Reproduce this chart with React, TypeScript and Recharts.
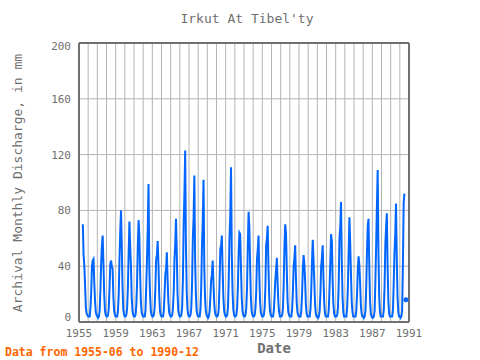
import React from 'react';
import { LineChart, Line, XAxis, YAxis, CartesianGrid } from 'recharts';

// Irkut at Tibel'ty, monthly discharge in mm
const years = [
  1955, 1956, 1957, 1958, 1959, 1960, 1961, 1962, 1963, 1964, 1965, 1966,
  1967, 1968, 1969, 1970, 1971, 1972, 1973, 1974, 1975, 1976, 1977, 1978,
  1979, 1980, 1981, 1982, 1983, 1984, 1985, 1986, 1987, 1988, 1989, 1990,
];

// one row per year, Jan..Dec
const discharge: (number | null)[][] = [
  [null, null, null, null, null, 70, 48, 40, 26, 10, 6, 5],
  [4, 4, 4, 10, 22, 40, 44, 45, 28, 15, 7, 5],
  [4, 3, 4, 8, 22, 42, 55, 62, 42, 20, 8, 5],
  [4, 4, 5, 10, 25, 42, 44, 40, 38, 18, 8, 5],
  [4, 4, 4, 8, 20, 45, 65, 80, 55, 25, 9, 5],
  [4, 4, 5, 10, 25, 50, 72, 55, 40, 18, 8, 5],
  [4, 4, 5, 12, 28, 55, 73, 62, 35, 15, 7, 5],
  [4, 4, 4, 8, 25, 45, 67, 99, 40, 20, 8, 5],
  [4, 4, 5, 10, 25, 45, 48, 58, 42, 20, 8, 5],
  [4, 4, 4, 8, 20, 34, 38, 50, 30, 15, 7, 5],
  [4, 4, 5, 10, 22, 45, 56, 74, 50, 20, 8, 5],
  [4, 4, 5, 10, 30, 70, 92, 123, 55, 22, 9, 5],
  [4, 4, 5, 10, 28, 60, 74, 105, 45, 20, 8, 5],
  [4, 4, 4, 9, 25, 55, 72, 102, 40, 18, 8, 5],
  [4, 3, 4, 8, 18, 30, 34, 44, 28, 14, 7, 5],
  [4, 4, 5, 10, 28, 52, 55, 62, 38, 18, 8, 5],
  [4, 4, 5, 10, 30, 60, 76, 111, 50, 22, 9, 5],
  [4, 4, 5, 10, 25, 50, 64, 63, 40, 18, 8, 5],
  [4, 4, 5, 10, 25, 55, 79, 68, 40, 18, 8, 5],
  [4, 4, 5, 10, 22, 45, 52, 62, 35, 15, 7, 5],
  [4, 4, 5, 10, 25, 55, 60, 69, 40, 18, 8, 5],
  [4, 4, 4, 8, 18, 30, 37, 46, 28, 14, 7, 4],
  [4, 4, 5, 10, 28, 55, 70, 63, 38, 16, 7, 5],
  [4, 4, 4, 9, 22, 40, 46, 55, 32, 14, 7, 5],
  [4, 4, 4, 8, 20, 38, 48, 42, 30, 13, 6, 4],
  [4, 4, 4, 9, 22, 43, 59, 45, 30, 13, 6, 4],
  [4, 3, 4, 8, 20, 40, 46, 55, 32, 14, 6, 4],
  [4, 4, 4, 9, 25, 43, 63, 58, 30, 13, 6, 4],
  [4, 4, 5, 10, 28, 60, 68, 86, 45, 18, 7, 4],
  [4, 4, 4, 10, 25, 50, 75, 57, 35, 15, 7, 4],
  [4, 4, 4, 8, 20, 38, 47, 41, 28, 12, 6, 4],
  [4, 3, 4, 8, 25, 50, 69, 74, 40, 15, 6, 4],
  [3, 3, 4, 8, 30, 55, 83, 109, 50, 18, 7, 4],
  [4, 4, 4, 9, 25, 55, 68, 78, 40, 15, 6, 4],
  [4, 4, 4, 9, 28, 50, 63, 85, 45, 18, 7, 4],
  [4, 3, 4, 8, 40, 85, 92, null, 16, null, null, null],
];

const xTicks = [
  1955, 1956, 1957, 1958, 1959, 1960, 1961, 1962, 1963, 1964, 1965, 1966,
  1967, 1968, 1969, 1970, 1971, 1972, 1973, 1974, 1975, 1976, 1977, 1978,
  1979, 1980, 1981, 1982, 1983, 1984, 1985, 1986, 1987, 1988, 1989, 1990, 1991,
];
const yTicks = [0, 40, 80, 120, 160, 200];
const yMinorTicks = [
  0, 10, 20, 30, 40, 50, 60, 70, 80, 90, 100, 110, 120, 130, 140, 150, 160,
  170, 180, 190, 200,
];

// flatten into the table recharts wants, starting at 1955-06
const data: { t: number; v: number | null }[] = [];
years.forEach((yr, i) => {
  discharge[i].forEach((v, m) => {
    if (yr === 1955 && m < 5) return;
    data.push({ t: yr + m / 12, v });
  });
});

const axisColor = '#707070';
const textColor = '#707070';
const font = '"DejaVu Sans Mono", monospace';
const tickStyle = { fill: textColor, fontSize: 11, fontFamily: font };
const frame = { stroke: axisColor, strokeWidth: 2 };

// y labels: the end ones are nudged inside the frame like the original
function YTick(props: any) {
  const { x, y, payload } = props;
  let dy = 4;
  if (payload.value === 0) dy = -1;
  if (payload.value === 200) dy = 7;
  return (
    <text x={x} y={y + dy} textAnchor="end" {...tickStyle}>
      {payload.value}
    </text>
  );
}

// only draw a marker where a point has no neighbours to connect to
function IsolatedDot(props: any) {
  const { index, cx, cy } = props;
  const prev = data[index - 1];
  const next = data[index + 1];
  const alone =
    data[index].v != null && (!prev || prev.v == null) && (!next || next.v == null);
  if (!alone || cx == null || cy == null) return <g key={`d${index}`} />;
  return <circle key={`d${index}`} cx={cx} cy={cy} r={2.5} fill="#0066ff" />;
}

export default function App() {
  return (
    <div style={{ position: 'absolute', left: 0, top: 0, width: 480, height: 360, background: '#fff' }}>
      <LineChart
        width={480}
        height={360}
        data={data}
        margin={{ top: 43, right: 71, bottom: 8, left: 0 }}
      >
        <CartesianGrid xAxisId="b" yAxisId="l" stroke="#b4b4b4" strokeWidth={1} />
        <XAxis
          xAxisId="b"
          dataKey="t"
          type="number"
          domain={[1955, 1991]}
          allowDataOverflow
          ticks={xTicks}
          interval={0}
          height={30}
          tickSize={0}
          tickMargin={7}
          tickLine={false}
          tickFormatter={(y: number) => ((y - 1955) % 4 === 0 ? String(y) : '')}
          tick={tickStyle}
          stroke={axisColor}
          axisLine={frame}
        />
        <XAxis
          xAxisId="bm"
          dataKey="t"
          type="number"
          domain={[1955, 1991]}
          allowDataOverflow
          ticks={xTicks}
          interval={0}
          orientation="bottom"
          mirror
          height={1}
          tickSize={6}
          tick={false}
          stroke={axisColor}
          axisLine={false}
          tickLine={frame}
        />
        <XAxis
          xAxisId="t"
          dataKey="t"
          type="number"
          domain={[1955, 1991]}
          allowDataOverflow
          ticks={xTicks}
          interval={0}
          orientation="top"
          mirror
          height={1}
          tickSize={6}
          tick={false}
          stroke={axisColor}
          axisLine={frame}
          tickLine={frame}
        />
        <YAxis
          yAxisId="l"
          domain={[0, 200]}
          allowDataOverflow
          ticks={yTicks}
          interval={0}
          width={79}
          tickSize={0}
          tickMargin={8}
          tickLine={false}
          tick={<YTick />}
          stroke={axisColor}
          axisLine={frame}
        />
        <YAxis
          yAxisId="lm"
          domain={[0, 200]}
          allowDataOverflow
          ticks={yMinorTicks}
          interval={0}
          mirror
          width={1}
          tickSize={5}
          tick={false}
          stroke={axisColor}
          axisLine={false}
          tickLine={frame}
        />
        <YAxis
          yAxisId="r"
          orientation="right"
          domain={[0, 200]}
          allowDataOverflow
          ticks={yMinorTicks}
          interval={0}
          mirror
          width={1}
          tickSize={5}
          tick={false}
          stroke={axisColor}
          axisLine={frame}
          tickLine={frame}
        />
        <Line
          xAxisId="b"
          yAxisId="l"
          dataKey="v"
          type="linear"
          stroke="#0066ff"
          strokeWidth={2}
          connectNulls={false}
          dot={IsolatedDot}
          activeDot={false}
          isAnimationActive={false}
        />
      </LineChart>
      <div
        style={{
          position: 'absolute', left: 247, top: 18, transform: 'translate(-50%, -50%)',
          fontFamily: font, fontSize: 13, color: textColor, whiteSpace: 'nowrap',
        }}
      >
        Irkut At Tibel'ty
      </div>
      <div
        style={{
          position: 'absolute', left: 17, top: 183, transform: 'translate(-50%, -50%) rotate(-90deg)',
          fontFamily: font, fontSize: 13, color: textColor, whiteSpace: 'nowrap',
        }}
      >
        Archival Monthly Discharge, in mm
      </div>
      <div
        style={{
          position: 'absolute', left: 274, top: 348, transform: 'translate(-50%, -50%)',
          fontFamily: font, fontSize: 14, fontWeight: 'bold', color: textColor, whiteSpace: 'nowrap',
        }}
      >
        Date
      </div>
      <div
        style={{
          position: 'absolute', left: 5, top: 352, transform: 'translateY(-50%)',
          fontFamily: font, fontSize: 11.5, fontWeight: 'bold', color: '#ff6600', whiteSpace: 'nowrap',
        }}
      >
        Data from 1955-06 to 1990-12
      </div>
    </div>
  );
}
